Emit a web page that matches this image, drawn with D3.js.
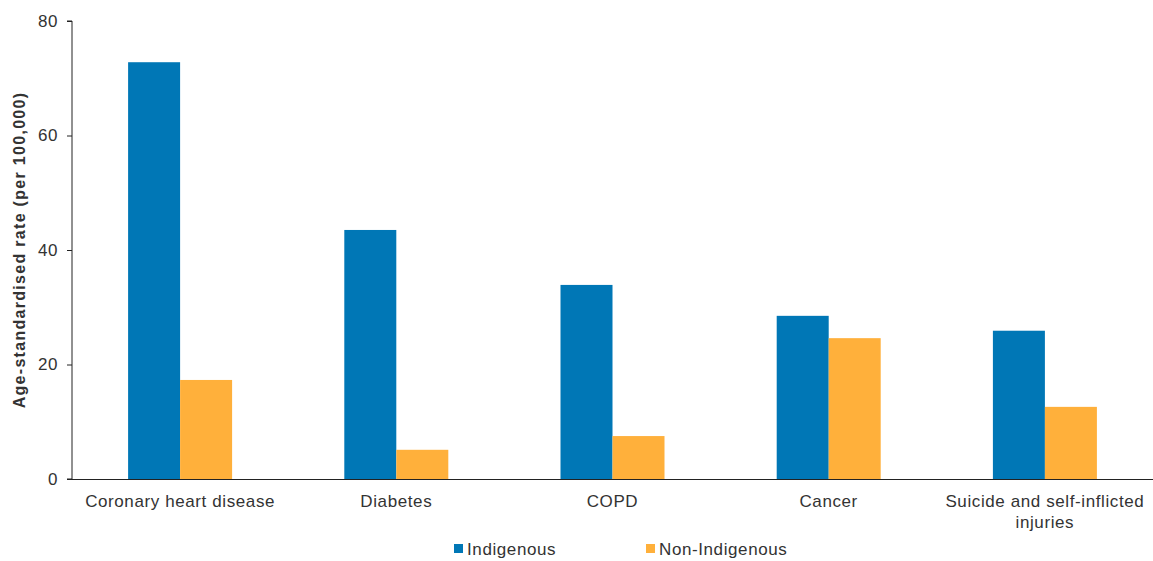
<!DOCTYPE html>
<html><head><meta charset="utf-8">
<script src="https://cdn.jsdelivr.net/npm/d3@7"></script>
<style>body{margin:0;background:#fff}text{font-family:"Liberation Sans",Arial,sans-serif}</style>
</head><body>
<svg id="c" width="1153" height="561"></svg>
<script>
const categories = ["Coronary heart disease","Diabetes","COPD","Cancer","Suicide and self-inflicted injuries"];
const indigenous = [72.8, 43.5, 33.9, 28.5, 25.9];
const nonIndigenous = [17.3, 5.1, 7.5, 24.6, 12.6];
const seriesNames = ["Indigenous","Non-Indigenous"];
const yTicks = [0,20,40,60,80];
const colors = ["#0077B6","#FFB03B"];

const svg = d3.select("#c");
const pLeft = 72, pRight = 1153, pTop = 21, pBottom = 479;
const x = d3.scaleBand().domain(categories).range([pLeft, pRight]).paddingInner(0).paddingOuter(0);
const y = d3.scaleLinear().domain([0,80]).range([pBottom, pTop]);
const groupW = 104;
const x1 = d3.scaleBand().domain(seriesNames).range([0, groupW]);

const data = categories.map((c,i)=>({c, vals:[indigenous[i], nonIndigenous[i]]}));
const g = svg.append("g");
data.forEach(d=>{
  const gx = x(d.c) + (x.bandwidth()-groupW)/2;
  d.vals.forEach((v,j)=>{
    g.append("rect").attr("x", gx + x1(seriesNames[j])).attr("width", x1.bandwidth())
     .attr("y", y(v)).attr("height", y(0)-y(v)).attr("fill", colors[j]);
  });
});

// y axis
const ya = svg.append("g").attr("transform",`translate(${pLeft},0)`)
  .call(d3.axisLeft(y).tickValues(yTicks).tickSize(5).tickPadding(9));
ya.select(".domain").attr("stroke","#222").attr("d",`M-5,${pTop}H0V${pBottom}H-5`);
ya.selectAll(".tick line").attr("stroke","#222");
ya.selectAll(".tick text").attr("font-size","17px").attr("fill","#333")
  .style("font-family","Liberation Sans, Arial, sans-serif").style("letter-spacing","0.6px");

// x axis
svg.append("line").attr("x1",pLeft).attr("x2",pRight).attr("y1",pBottom+0.5).attr("y2",pBottom+0.5).attr("stroke","#222");
const xl = svg.append("g");
categories.forEach(c=>{
  const cx = x(c)+x.bandwidth()/2;
  const lines = c==="Suicide and self-inflicted injuries" ? ["Suicide and self-inflicted","injuries"] : [c];
  lines.forEach((t,k)=>{
    xl.append("text").attr("x",cx).attr("y",507+k*21).attr("text-anchor","middle")
      .attr("font-size","17px").attr("fill","#333").style("letter-spacing","0.6px").text(t);
  });
});

// y title
svg.append("text").attr("transform","translate(25,250) rotate(-90)").attr("text-anchor","middle")
  .attr("font-size","16px").attr("font-weight","bold").attr("fill","#333").style("letter-spacing","1.3px")
  .text("Age-standardised rate (per 100,000)");

// legend
const legX = [454, 646];
seriesNames.forEach((s,i)=>{
  svg.append("rect").attr("x",legX[i]).attr("y",544).attr("width",9).attr("height",9).attr("fill",colors[i]);
  svg.append("text").attr("x",legX[i]+13).attr("y",555).attr("font-size","17px").attr("fill","#333")
    .style("letter-spacing","0.6px").text(s);
});
</script>
</body></html>
